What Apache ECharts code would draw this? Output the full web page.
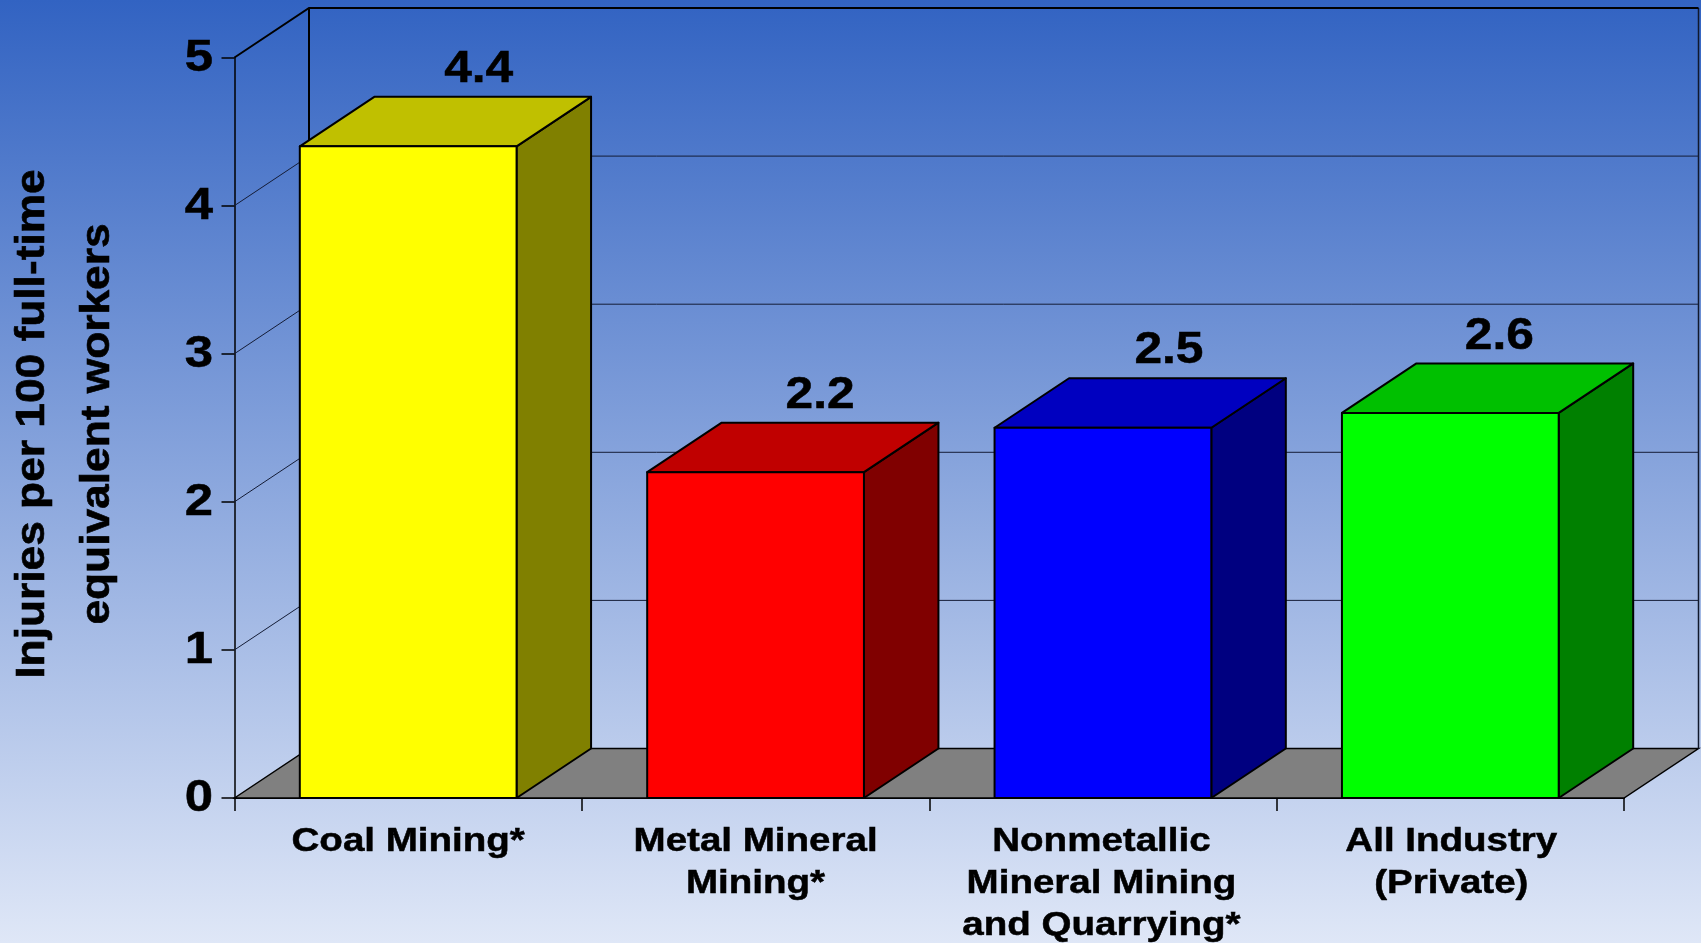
<!DOCTYPE html>
<html><head><meta charset="utf-8">
<style>html,body{margin:0;padding:0;overflow:hidden}#c{width:1701px;height:943px}</style>
<script src="https://cdn.jsdelivr.net/npm/echarts@6/dist/echarts.min.js"></script>
</head><body><div id="c"></div>
<script>
const categories = ['Coal Mining*', 'Metal Mineral\nMining*', 'Nonmetallic\nMineral Mining\nand Quarrying*', 'All Industry\n(Private)'];
const values = [4.4, 2.2, 2.5, 2.6];
const yTicks = [0, 1, 2, 3, 4, 5];
const yTitle = 'Injuries per 100 full-time\nequivalent workers';

const frontColors = ['#ffff00', '#ff0000', '#0000ff', '#00ff00'];
const topColors = ['#c0c000', '#c00000', '#0000c0', '#00c000'];
const sideColors = ['#808000', '#800000', '#000080', '#008000'];
const valueLabelShift = [70.5, 64.5, 66, 49];
const catLabelShift = [0, 0, -1.5, 1];

const DX = 74.5, DY = 49.5, BAR = 0.624, STRETCH = 1.13, CAT_STRETCH = 1.15;
const FONT = '"Liberation Sans", Arial, sans-serif';

function stretchedText(text, x, y, size, align, lh, vAlign, stretch) {
  return {
    type: 'text', x, y, scaleX: stretch || STRETCH,
    style: { text, x: 0, y: 0, align: align, verticalAlign: vAlign || 'middle', fontFamily: FONT, fontWeight: 'bold', fontSize: size, lineHeight: lh || size, fill: '#000', stroke: '#000', lineWidth: 0.5 }
  };
}

function renderWall(params, api) {
  const v = api.value(1);
  const cs = params.coordSys;
  const y = api.coord([0, v])[1];
  const l = cs.x, r = cs.x + cs.width;
  const kids = [];
  if (v === 0) {
    kids.push({ type: 'polygon', shape: { points: [[l, y], [l + DX, y - DY], [r + DX, y - DY], [r, y]] },
      style: { fill: '#808080', stroke: '#000', lineWidth: 1.5 } });
    kids.push({ type: 'line', shape: { x1: l + DX, y1: y - DY, x2: l + DX, y2: cs.y - DY }, style: { stroke: '#000', lineWidth: 2 } });
    kids.push({ type: 'line', shape: { x1: r + DX, y1: y - DY, x2: r + DX, y2: cs.y - DY }, style: { stroke: '#10182c', lineWidth: 1.5 } });
  } else {
    const top = v === yTicks[yTicks.length - 1];
    kids.push({ type: 'polyline', shape: { points: [[l, y], [l + DX, y - DY], [r + DX, y - DY]] },
      style: { fill: null, stroke: top ? '#000' : '#141c36', lineWidth: top ? 2 : 1 } });
  }
  kids.push(stretchedText(String(v), 213, y + 1, 45, 'right'));
  return { type: 'group', children: kids };
}

function renderBar(params, api) {
  const i = api.value(0);
  const base = api.coord([i, 0]);
  const head = api.coord([i, api.value(1)]);
  const w = api.size([1, 0])[0] * BAR;
  const x0 = base[0] - w / 2, x1 = base[0] + w / 2;
  const y0 = base[1], y1 = head[1];
  const edge = { stroke: '#000', lineWidth: 2, lineJoin: 'round' };
  return { type: 'group', children: [
    { type: 'polygon', shape: { points: [[x1, y0], [x1 + DX, y0 - DY], [x1 + DX, y1 - DY], [x1, y1]] }, style: { fill: sideColors[i], ...edge } },
    { type: 'polygon', shape: { points: [[x0, y1], [x0 + DX, y1 - DY], [x1 + DX, y1 - DY], [x1, y1]] }, style: { fill: topColors[i], ...edge } },
    { type: 'rect', shape: { x: x0, y: y1, width: x1 - x0, height: y0 - y1 }, style: { fill: frontColors[i], ...edge } },
    stretchedText(values[i].toFixed(1), base[0] + valueLabelShift[i], y1 - DY - 27, 44, 'center'),
    stretchedText(categories[i], base[0] + catLabelShift[i], y0 + 22.5, 33.5, 'center', 42.3, 'top', CAT_STRETCH)
  ]};
}

const chart = echarts.init(document.getElementById('c'), null, { renderer: 'canvas' });
chart.setOption({
  animation: false,
  backgroundColor: { type: 'linear', x: 0, y: 0, x2: 0, y2: 1, colorStops: [
    { offset: 0, color: '#3263c2' }, { offset: 1, color: '#dfe7f7' } ] },
  grid: { left: 234.5, top: 57.5, width: 1389.5, height: 740.5 },
  xAxis: { type: 'category', data: categories, boundaryGap: true,
    axisLine: { lineStyle: { color: '#000', width: 2 } },
    axisTick: { show: true, length: 13, alignWithLabel: false, lineStyle: { color: '#000', width: 1.5 } },
    axisLabel: { show: false }, splitLine: { show: false } },
  yAxis: { type: 'value', min: 0, max: 5, interval: 1,
    axisLine: { show: true, lineStyle: { color: '#000', width: 1.5 } },
    axisTick: { show: true, length: 13, lineStyle: { color: '#000', width: 1.5 } },
    axisLabel: { show: false }, splitLine: { show: false } },
  graphic: [{
    type: 'text', x: 65, y: 424, rotation: Math.PI / 2, scaleX: 1.08,
    style: { text: yTitle, x: 0, y: 0, align: 'center', verticalAlign: 'middle', fontFamily: FONT, fontWeight: 'bold', fontSize: 41, lineHeight: 65, fill: '#000', stroke: '#000', lineWidth: 0.6 }
  }],
  series: [
    { type: 'custom', z: 1, clip: false, renderItem: renderWall, data: yTicks.map(v => [0, v]), encode: { x: 0, y: 1 } },
    { type: 'custom', z: 3, clip: false, renderItem: renderBar, data: values.map((v, i) => [i, v]), encode: { x: 0, y: 1 } }
  ]
});
</script></body></html>
